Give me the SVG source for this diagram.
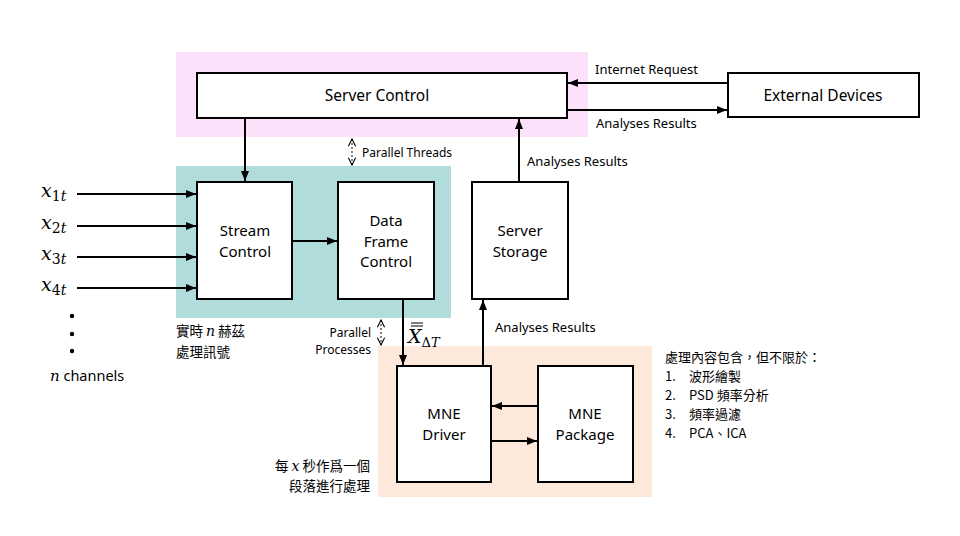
<svg xmlns="http://www.w3.org/2000/svg" width="960" height="536" viewBox="0 0 960 536">
<defs>
<marker id="ah" viewBox="0 0 10 10" refX="10" refY="5" markerWidth="5" markerHeight="5" orient="auto-start-reverse" markerUnits="strokeWidth">
<path d="M0,1 L10,5 L0,9 z" fill="#000"/>
</marker>
<marker id="ahs" viewBox="0 0 10 10" refX="9" refY="5" markerWidth="9" markerHeight="9" orient="auto-start-reverse" markerUnits="userSpaceOnUse">
<path d="M1,1 L9,5 L1,9" fill="none" stroke="#000" stroke-width="1.2"/>
</marker>
<style>
.box{fill:#fff;stroke:#000;stroke-width:2}
.t{font-family:"Noto Sans","Noto Sans CJK TC",sans-serif;font-size:15.5px;fill:#000;text-anchor:middle}
.t2{font-family:"Noto Sans","Noto Sans CJK TC",sans-serif;font-size:15px;fill:#000;text-anchor:middle}
.l{font-family:"Noto Sans","Noto Sans CJK TC",sans-serif;font-size:13px;fill:#000}
.s{font-family:"Noto Sans","Noto Sans CJK TC",sans-serif;font-size:12px;fill:#000}
.c{font-family:"Noto Sans CJK TC","Noto Sans",sans-serif;font-size:13.5px;fill:#000}
.c2{font-family:"Noto Sans CJK TC","Noto Sans",sans-serif;font-size:13px;fill:#000}
.m{font-family:"DejaVu Serif","Liberation Serif",serif;font-style:italic;fill:#000}
.ln{stroke:#000;stroke-width:2;fill:none;marker-end:url(#ah)}
.dash{stroke:#000;stroke-width:1;stroke-dasharray:2,2;fill:none;marker-start:url(#ahs);marker-end:url(#ahs)}
</style>
</defs>
<rect x="176" y="52" width="412" height="85" fill="#fce1fa"/>
<rect x="176" y="166" width="275" height="152" fill="#b1dcdc"/>
<rect x="378" y="346" width="274" height="151" fill="#fde9dc"/>

<g id="connectors">
<line class="ln" x1="728" y1="83" x2="568" y2="83"/>
<line class="ln" x1="567" y1="110" x2="727" y2="110"/>
<line class="ln" x1="245" y1="118" x2="245" y2="181"/>
<line class="ln" x1="519" y1="182" x2="519" y2="119"/>
<line class="ln" x1="77" y1="194" x2="196" y2="194"/>
<line class="ln" x1="77" y1="226" x2="196" y2="226"/>
<line class="ln" x1="77" y1="257" x2="196" y2="257"/>
<line class="ln" x1="77" y1="288" x2="196" y2="288"/>
<line class="ln" x1="292" y1="241" x2="337" y2="241"/>
<line class="ln" x1="403" y1="299" x2="403" y2="365"/>
<line class="ln" x1="483" y1="366" x2="483" y2="300"/>
<line class="ln" x1="538" y1="406" x2="492" y2="406"/>
<line class="ln" x1="491" y1="441" x2="537" y2="441"/>
<line class="dash" x1="352" y1="139" x2="352" y2="165"/>
<line class="dash" x1="381" y1="320" x2="381" y2="345"/>
</g>

<g id="server-control"><rect class="box" x="197" y="73" width="370" height="45"/><text class="t" x="377" y="101">Server Control</text></g>
<g id="external-devices"><rect class="box" x="728" y="73" width="191" height="44"/><text class="t" x="823" y="101">External Devices</text></g>
<g id="stream-control"><rect class="box" x="197" y="182" width="95" height="117"/><text class="t2" x="245" y="236">Stream<tspan x="245" dy="20.5">Control</tspan></text></g>
<g id="data-frame-control"><rect class="box" x="338" y="182" width="96" height="117"/><text class="t2" x="386" y="226">Data<tspan x="386" dy="20.5">Frame</tspan><tspan x="386" dy="20.5">Control</tspan></text></g>
<g id="server-storage"><rect class="box" x="472" y="182" width="96" height="117"/><text class="t2" x="520" y="236">Server<tspan x="520" dy="20.5">Storage</tspan></text></g>
<g id="mne-driver"><rect class="box" x="397" y="366" width="94" height="116"/><text class="t2" x="444" y="419">MNE<tspan x="444" dy="20.5">Driver</tspan></text></g>
<g id="mne-package"><rect class="box" x="538" y="366" width="95" height="116"/><text class="t2" x="585" y="419">MNE<tspan x="585" dy="20.5">Package</tspan></text></g>

<g id="labels">
<text class="l" x="595" y="74">Internet Request</text>
<text class="l" x="596" y="128">Analyses Results</text>
<text class="l" x="527" y="166">Analyses Results</text>
<text class="l" x="495" y="332">Analyses Results</text>
<text class="s" x="362" y="157">Parallel Threads</text>
<text class="s" x="371" y="337" text-anchor="end">Parallel<tspan x="371" dy="16.5">Processes</tspan></text>
<text class="m" x="41" y="197" font-size="19">x<tspan font-size="14" dy="4" font-style="normal">1</tspan><tspan font-size="14">t</tspan></text>
<text class="m" x="41" y="229" font-size="19">x<tspan font-size="14" dy="4" font-style="normal">2</tspan><tspan font-size="14">t</tspan></text>
<text class="m" x="41" y="260" font-size="19">x<tspan font-size="14" dy="4" font-style="normal">3</tspan><tspan font-size="14">t</tspan></text>
<text class="m" x="41" y="291" font-size="19">x<tspan font-size="14" dy="4" font-style="normal">4</tspan><tspan font-size="14">t</tspan></text>
<circle cx="72" cy="316" r="2.2"/>
<circle cx="72" cy="334" r="2.2"/>
<circle cx="72" cy="351" r="2.2"/>
<text x="50" y="381" class="l" style="font-size:14.5px"><tspan class="m" style="font-size:15px">n</tspan> channels</text>
<text class="c" x="176" y="336">實時 <tspan class="m" font-size="14">n</tspan> 赫茲<tspan x="176" dy="21">處理訊號</tspan></text>
<text class="m" x="408" y="343" font-size="19">X<tspan font-size="13" dy="4" font-style="normal">Δ</tspan><tspan font-size="13">T</tspan></text>
<line x1="411" y1="323" x2="423" y2="323" stroke="#000" stroke-width="1"/>
<line x1="411" y1="326" x2="423" y2="326" stroke="#000" stroke-width="1"/>
<text class="c" x="370" y="471" text-anchor="end">每 <tspan class="m" font-size="14">x</tspan> 秒作爲一個<tspan x="370" dy="20">段落進行處理</tspan></text>
<text class="c2" x="665" y="362">處理內容包含，但不限於：<tspan x="665" dy="19">1.</tspan><tspan x="689">波形繪製</tspan><tspan x="665" dy="19">2.</tspan><tspan x="689">PSD 頻率分析</tspan><tspan x="665" dy="19">3.</tspan><tspan x="689">頻率過濾</tspan><tspan x="665" dy="19">4.</tspan><tspan x="689">PCA、ICA</tspan></text>
</g>
</svg>
